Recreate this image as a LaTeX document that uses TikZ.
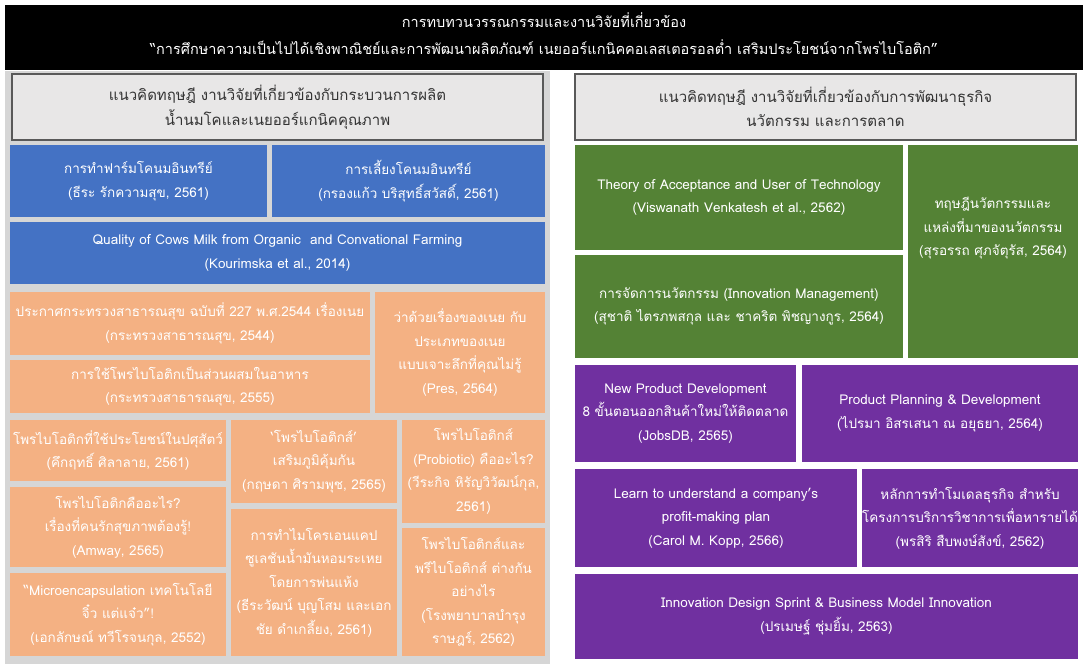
\documentclass[tikz,border=0pt]{standalone}
\usepackage{fontspec}
\setmainfont[Script=Thai]{Loma}
\definecolor{cblue}{HTML}{4472C4}
\definecolor{corange}{HTML}{F4B183}
\definecolor{cgreen}{HTML}{548235}
\definecolor{cpurple}{HTML}{7030A0}
\definecolor{cpanel}{HTML}{D6D6D6}
\definecolor{chead}{HTML}{E8E7E7}
\definecolor{cheadline}{HTML}{595959}
\definecolor{cheadtext}{HTML}{333333}
% box from (x1,y1) to (x2,y2), in pixel-like units with y pointing down
\newcommand\blk[7]{%
  \node[#6, minimum width={(#4-#2)*1pt}, minimum height={(#5-#3)*1pt}]
    (#1) at ({(#2+#4)/2},{(#3+#5)/2}) {#7};}
\begin{document}
\begin{tikzpicture}[x=1pt,y=-1pt,
  base/.style={rectangle, inner sep=0pt, outer sep=0pt, align=center,
    font=\fontsize{13.5}{23.5}\selectfont},
  bluebox/.style={base, fill=cblue, text=white},
  orangebox/.style={base, fill=corange, text=white},
  greenbox/.style={base, fill=cgreen, text=white},
  purplebox/.style={base, fill=cpurple, text=white},
  headbox/.style={base, fill=chead, draw=cheadline, line width=1.5pt,
    text=cheadtext, font=\fontsize{15}{24.5}\selectfont},
  titlebox/.style={rectangle, inner sep=0pt, outer sep=0pt, fill=black},
  titletext/.style={inner sep=0pt, align=center, text=white,
    font=\fontsize{14.5}{27.5}\selectfont},
  panel/.style={rectangle, inner sep=0pt, outer sep=0pt, fill=cpanel},
  txt/.style={inner sep=0pt, align=center, text=white,
    font=\fontsize{13.5}{23.5}\selectfont}]
\useasboundingbox (0,0) rectangle (1083,664);
\fill[white] (0,0) rectangle (1083,664);

% title bar
\blk{title}{5}{5}{1083}{70}{titlebox}{}
\node[titletext] (titletxt) at (title.center) [yshift=4pt]
  {การทบทวนวรรณกรรมและงานวิจัยที่เกี่ยวข้อง\\
  “การศึกษาความเป็นไปได้เชิงพาณิชย์และการพัฒนาผลิตภัณฑ์ เนยออร์แกนิคคอเลสเตอรอลต่ำ เสริมประโยชน์จากโพรไบโอติก”};

% left column
\blk{leftpanel}{5}{71}{550}{664}{panel}{}
\blk{lhead}{12}{74}{543}{140}{headbox}{แนวคิดทฤษฎี งานวิจัยที่เกี่ยวข้องกับกระบวนการผลิต\\น้ำนมโคและเนยออร์แกนิคคุณภาพ}

\blk{b1}{10}{145}{267}{217}{bluebox}{การทำฟาร์มโคนมอินทรีย์\\(ธีระ รักความสุข, 2561)}
\blk{b2}{272}{145}{545}{217}{bluebox}{การเลี้ยงโคนมอินทรีย์\\(กรองแก้ว บริสุทธิ์สวัสดิ์, 2561)}
\blk{b3}{10}{222}{545}{284}{bluebox}{Quality of Cows Milk from Organic~ and Convational Farming\\(Kourimska et al., 2014)}

\blk{o1}{10}{292}{370}{355}{orangebox}{ประกาศกระทรวงสาธารณสุข ฉบับที่ 227 พ.ศ.2544 เรื่องเนย\\(กระทรวงสาธารณสุข, 2544)}
\blk{o2}{10}{360}{370}{413}{orangebox}{การใช้โพรไบโอติกเป็นส่วนผสมในอาหาร\\(กระทรวงสาธารณสุข, 2555)}
\blk{o3}{375}{292}{545}{413}{orangebox}{ว่าด้วยเรื่องของเนย กับ\\ประเภทของเนย\\แบบเจาะลึกที่คุณไม่รู้\\(Pres, 2564)}

\blk{o4}{10}{420}{226}{481}{orangebox}{โพรไบโอติกที่ใช้ประโยชน์ในปศุสัตว์\\(คึกฤทธิ์ ศิลาลาย, 2561)}
\blk{o5}{10}{487}{226}{567}{orangebox}{โพรไบโอติกคืออะไร?\\เรื่องที่คนรักสุขภาพต้องรู้!\\(Amway, 2565)}
\blk{o6}{10}{573}{226}{656}{orangebox}{“Microencapsulation เทคโนโลยี\\จิ๋ว แต่แจ๋ว”!\\(เอกลักษณ์ ทวีโรจนกุล, 2552)}

\blk{o7}{231}{420}{397}{503}{orangebox}{‘โพรไบโอติกส์’\\เสริมภูมิคุ้มกัน\\(กฤษดา ศิรามพุช, 2565)}
\blk{o8}{231}{509}{397}{656}{orangebox}{การทำไมโครเอนแคป\\ซูเลชันน้ำมันหอมระเหย\\โดยการพ่นแห้ง\\(ธีระวัฒน์ บุญโสม และเอก\\ชัย ดำเกลี้ยง, 2561)}

\blk{o9}{402}{420}{545}{523}{orangebox}{โพรไบโอติกส์\\(Probiotic) คืออะไร?\\(วีระกิจ หิรัญวิวัฒน์กุล,\\2561)}
\blk{o10}{402}{528}{545}{656}{orangebox}{โพรไบโอติกส์และ\\พรีไบโอติกส์ ต่างกัน\\อย่างไร\\(โรงพยาบาลบำรุง\\ราษฎร์, 2562)}

% right column
\blk{rhead}{575}{74}{1076}{140}{headbox}{แนวคิดทฤษฎี งานวิจัยที่เกี่ยวข้องกับการพัฒนาธุรกิจ\\นวัตกรรม และการตลาด}

\blk{g1}{575}{145}{903}{250}{greenbox}{Theory of Acceptance and User of Technology\\(Viswanath Venkatesh et al., 2562)}
\blk{g2}{575}{255}{903}{358}{greenbox}{การจัดการนวัตกรรม (Innovation Management)\\(สุชาติ ไตรภพสกุล และ ชาคริต พิชญางกูร, 2564)}
\blk{g3}{908}{145}{1078}{358}{greenbox}{}
\node[txt] (g3text) at (g3.center) [yshift=23pt] {ทฤษฎีนวัตกรรมและ\\แหล่งที่มาของนวัตกรรม\\(สุรอรรถ ศุภจัตุรัส, 2564)};

\blk{p1}{575}{365}{796}{462}{purplebox}{New Product Development\\8 ขั้นตอนออกสินค้าใหม่ให้ติดตลาด\\(JobsDB, 2565)}
\blk{p2}{802}{365}{1078}{462}{purplebox}{Product Planning \& Development\\(ไปรมา อิสรเสนา ณ อยุธยา, 2564)}
\blk{p3}{575}{469}{857}{567}{purplebox}{Learn to understand a company’s\\profit-making plan\\(Carol M. Kopp, 2566)}
\blk{p4}{862}{469}{1078}{567}{purplebox}{หลักการทำโมเดลธุรกิจ สำหรับ\\โครงการบริการวิชาการเพื่อหารายได้\\(พรสิริ สืบพงษ์สังข์, 2562)}
\blk{p5}{575}{574}{1078}{659}{purplebox}{Innovation Design Sprint \& Business Model Innovation\\(ปรเมษฐ์ ชุ่มยิ้ม, 2563)}
\end{tikzpicture}
\end{document}
